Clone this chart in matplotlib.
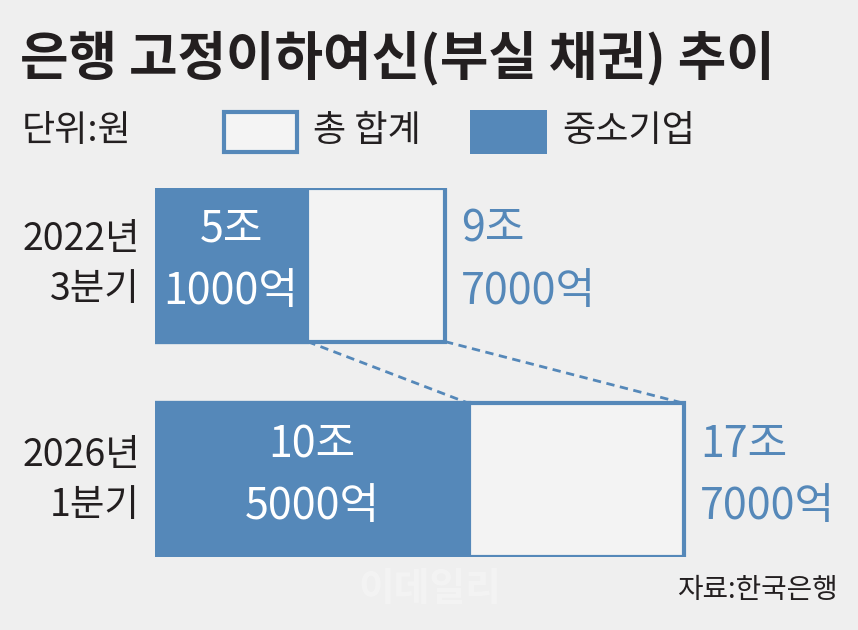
import matplotlib
matplotlib.use("Agg")
import matplotlib.pyplot as plt
from matplotlib.patches import Rectangle

plt.rcParams['font.family'] = ['Noto Sans CJK KR', 'DejaVu Sans']

# data (unit: 조 원)
periods = [('2022년', '3분기'), ('2026년', '1분기')]
total = [9.7, 17.7]
sme = [5.1, 10.5]
total_labels = [('9조', '7000억'), ('17조', '7000억')]
sme_labels = [('5조', '1000억'), ('10조', '5000억')]

title = '은행 고정이하여신(부실 채권) 추이'
unit_text = '단위:원'
legend_labels = ['총 합계', '중소기업']
source_text = '자료:한국은행'

BLUE = '#5588b9'
DARK = '#231f20'
BG = '#efefef'
W, H = 858, 630
PX = 29.9  # pixels per 조

fig = plt.figure(figsize=(W / 100, H / 100), dpi=100, facecolor=BG)

# background axes in pixel coordinates for title, legend, notes
ax_bg = fig.add_axes([0, 0, 1, 1])
ax_bg.set_xlim(0, W)
ax_bg.set_ylim(H, 0)
ax_bg.axis('off')

ax_bg.text(20, 58, title, fontsize=38, fontweight='bold', color=DARK,
           ha='left', va='center')
ax_bg.text(22, 131, unit_text, fontsize=26, color=DARK, ha='left', va='center')

# legend
ax_bg.add_patch(Rectangle((224, 112), 73, 40, facecolor='#f4f4f4',
                          edgecolor=BLUE, linewidth=3))
ax_bg.text(313, 131, legend_labels[0], fontsize=26, color=DARK, ha='left', va='center')
ax_bg.add_patch(Rectangle((470, 110), 77, 44, facecolor=BLUE, edgecolor='none'))
ax_bg.text(562, 131, legend_labels[1], fontsize=26, color=DARK, ha='left', va='center')

# watermark and source
ax_bg.text(430, 590, '이데일리', fontsize=28, fontweight='bold', color='white',
           alpha=0.3, ha='center', va='center')
ax_bg.text(838, 590, source_text, fontsize=20, color=DARK, ha='right', va='center')

# bar axes: x = 0 at 155 px, y from 188 px to 557 px
left_px, top_px, bot_px = 155, 188, 557
ax = fig.add_axes([left_px / W, 1 - bot_px / H, (W - left_px) / W, (bot_px - top_px) / H])
ax.patch.set_alpha(0)
ax.axis('off')
bar_h = 0.713
ax.set_xlim(0, (W - left_px) / PX)
ax.set_ylim(1 + bar_h / 2, -bar_h / 2)

ys = list(range(len(total)))
ax.barh(ys, total, height=bar_h, left=0, facecolor='#f3f3f3',
        edgecolor=BLUE, linewidth=3, zorder=2)
ax.barh(ys, sme, height=bar_h, left=0, color=BLUE, edgecolor=BLUE,
        linewidth=3, zorder=3)

# dashed connectors between bars
for a, b in [(sme[0], sme[1]), (total[0], total[1])]:
    ax.plot([a, b], [ys[0] + bar_h / 2, ys[1] - bar_h / 2], color=BLUE,
            linestyle=(0, (3, 2)), linewidth=2, zorder=1, clip_on=False)

offsets = [-35, 27]  # pixel offsets of the two text lines from bar center
for i, y in enumerate(ys):
    for line, dy in zip(sme_labels[i], offsets):
        ax.annotate(line, (sme[i] / 2, y), xytext=(0, -dy * 0.72),
                    textcoords='offset points', ha='center', va='center',
                    fontsize=31, fontweight='medium', color='white', zorder=4)
    for line, dy in zip(total_labels[i], offsets):
        ax.annotate(line, (total[i], y), xytext=(16 * 0.72, -dy * 0.72),
                    textcoords='offset points', ha='left', va='center',
                    fontsize=31, fontweight='medium', color=BLUE, zorder=4)
    for line, dy in zip(periods[i], [-25, 25]):
        ax.annotate(line, (0, y), xytext=(-15 * 0.72, -dy * 0.72),
                    textcoords='offset points', ha='right', va='center',
                    fontsize=27, color=DARK, zorder=4, annotation_clip=False)

fig.savefig('out.png', dpi=100, facecolor=BG)
